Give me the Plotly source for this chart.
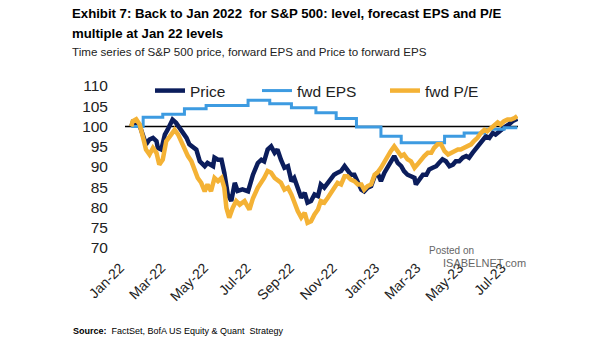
import plotly.graph_objects as go

# ---------------- data ----------------
price_dates = [
    "2022-01-17", "2022-01-19", "2022-01-24", "2022-01-29", "2022-01-31", "2022-02-07", "2022-02-12",
    "2022-02-17", "2022-02-22", "2022-02-24", "2022-03-01", "2022-03-06", "2022-03-10", "2022-03-17",
    "2022-03-22", "2022-03-27", "2022-04-01", "2022-04-06", "2022-04-10", "2022-04-15", "2022-04-20",
    "2022-04-25", "2022-05-02", "2022-05-06", "2022-05-14", "2022-05-16", "2022-05-21", "2022-05-26",
    "2022-05-30", "2022-06-04", "2022-06-09", "2022-06-14", "2022-06-18", "2022-06-25", "2022-07-03",
    "2022-07-10", "2022-07-17", "2022-07-22", "2022-07-26", "2022-07-31", "2022-08-05", "2022-08-10",
    "2022-08-14", "2022-08-19", "2022-08-24", "2022-08-29", "2022-09-03", "2022-09-07", "2022-09-12",
    "2022-09-17", "2022-09-22", "2022-09-26", "2022-10-01", "2022-10-06", "2022-10-11", "2022-10-15",
    "2022-10-20", "2022-10-25", "2022-10-30", "2022-11-03", "2022-11-08", "2022-11-13", "2022-11-18",
    "2022-11-22", "2022-11-27", "2022-12-02", "2022-12-07", "2022-12-12", "2022-12-16", "2022-12-21",
    "2022-12-26", "2022-12-31", "2023-01-04", "2023-01-09", "2023-01-14", "2023-01-19", "2023-01-23",
    "2023-01-28", "2023-02-02", "2023-02-07", "2023-02-11", "2023-02-16", "2023-02-21", "2023-02-26",
    "2023-02-28", "2023-03-05", "2023-03-10", "2023-03-15", "2023-03-19", "2023-03-24", "2023-03-29",
    "2023-04-02", "2023-04-07", "2023-04-12", "2023-04-17", "2023-04-22", "2023-04-26", "2023-05-01",
    "2023-05-06", "2023-05-11", "2023-05-15", "2023-05-20", "2023-05-25", "2023-05-30", "2023-06-03",
    "2023-06-08", "2023-06-13", "2023-06-18", "2023-06-22", "2023-06-27", "2023-07-02", "2023-07-07",
    "2023-07-11", "2023-07-16", "2023-07-21", "2023-07-23",
]
price_values = [
    100.0, 101.0, 100.5, 100.3, 99.2, 95.6, 96.8,
    97.2, 96.4, 94.7, 94.3, 98.0, 99.2, 101.7,
    100.9, 99.6, 98.4, 97.2, 95.6, 95.1, 94.3,
    91.4, 90.2, 91.0, 90.2, 92.3, 91.8, 91.8,
    88.6, 83.2, 81.6, 86.1, 84.1, 84.5, 84.0,
    88.1, 91.0, 91.8, 91.4, 94.3, 95.1, 93.5,
    94.3, 91.8, 89.8, 90.2, 86.5, 87.3, 84.9,
    82.4, 83.6, 81.2, 81.6, 83.2, 82.8, 85.7,
    84.9, 86.1, 87.3, 88.1, 88.6, 89.0, 90.2,
    89.4, 88.1, 88.1, 86.1, 84.4, 84.0, 84.9,
    85.3, 87.7, 88.6, 86.5, 88.6, 90.2, 91.4,
    92.7, 91.0, 90.2, 89.0, 88.1, 87.7, 87.3,
    85.7, 86.9, 88.1, 88.1, 89.4, 89.8, 90.2,
    91.0, 91.9, 91.4, 90.2, 90.6, 91.4, 91.4,
    92.3, 92.7, 92.3, 93.5, 94.7, 95.6, 96.4,
    97.6, 97.2, 98.4, 98.0, 98.8, 99.6, 100.1,
    100.5, 101.3, 101.7, 101.9,
]

pe_dates = [
    "2022-01-17", "2022-01-19", "2022-01-24", "2022-01-29", "2022-02-03", "2022-02-07", "2022-02-12",
    "2022-02-17", "2022-02-22", "2022-02-26", "2022-03-03", "2022-03-08", "2022-03-15", "2022-03-20",
    "2022-03-25", "2022-03-29", "2022-04-03", "2022-04-08", "2022-04-13", "2022-04-17", "2022-04-22",
    "2022-04-27", "2022-05-02", "2022-05-06", "2022-05-11", "2022-05-16", "2022-05-21", "2022-05-26",
    "2022-05-30", "2022-06-02", "2022-06-06", "2022-06-11", "2022-06-16", "2022-06-21", "2022-06-28",
    "2022-07-05", "2022-07-10", "2022-07-17", "2022-07-22", "2022-07-26", "2022-07-31", "2022-08-05",
    "2022-08-10", "2022-08-14", "2022-08-19", "2022-08-24", "2022-08-29", "2022-09-03", "2022-09-07",
    "2022-09-12", "2022-09-17", "2022-09-22", "2022-09-26", "2022-10-01", "2022-10-06", "2022-10-11",
    "2022-10-15", "2022-10-20", "2022-10-25", "2022-10-30", "2022-11-03", "2022-11-08", "2022-11-13",
    "2022-11-18", "2022-11-22", "2022-11-27", "2022-12-02", "2022-12-07", "2022-12-12", "2022-12-16",
    "2022-12-21", "2022-12-26", "2022-12-31", "2023-01-04", "2023-01-09", "2023-01-14", "2023-01-19",
    "2023-01-23", "2023-01-28", "2023-02-02", "2023-02-07", "2023-02-11", "2023-02-16", "2023-02-21",
    "2023-02-26", "2023-03-02", "2023-03-07", "2023-03-12", "2023-03-17", "2023-03-22", "2023-03-26",
    "2023-03-31", "2023-04-05", "2023-04-10", "2023-04-15", "2023-04-19", "2023-04-24", "2023-04-29",
    "2023-05-03", "2023-05-08", "2023-05-13", "2023-05-18", "2023-05-22", "2023-05-27", "2023-06-01",
    "2023-06-06", "2023-06-10", "2023-06-15", "2023-06-20", "2023-06-25", "2023-06-29", "2023-07-04",
    "2023-07-09", "2023-07-14", "2023-07-19", "2023-07-23",
]
pe_values = [
    100.0, 101.3, 101.8, 100.5, 97.2, 94.3, 93.1,
    94.7, 93.5, 90.6, 91.8, 96.4, 98.0, 99.2,
    98.0, 96.4, 94.3, 92.7, 91.4, 89.4, 87.3,
    86.1, 84.0, 85.7, 84.0, 87.3, 86.5, 87.3,
    84.9, 79.9, 77.5, 79.9, 81.6, 80.7, 81.6,
    79.5, 82.3, 84.9, 86.1, 87.3, 89.0, 88.6,
    87.3, 86.9, 86.1, 84.4, 84.9, 83.2, 81.2,
    79.1, 77.5, 78.7, 76.2, 76.6, 78.3, 79.5,
    81.6, 81.2, 82.4, 83.6, 84.9, 86.1, 85.7,
    87.7, 87.7, 86.9, 86.5, 85.7, 85.7, 84.4,
    85.3, 85.7, 88.1, 88.6, 89.8, 91.4, 93.1,
    93.9, 95.1, 93.9, 92.7, 93.1, 91.9, 91.4,
    89.8, 90.6, 91.9, 92.7, 93.5, 93.5, 94.7,
    95.6, 95.6, 93.9, 93.1, 93.5, 93.9, 94.3,
    94.3, 94.7, 95.1, 95.6, 96.4, 97.2, 98.4,
    99.2, 98.8, 99.6, 100.1, 101.0, 100.5, 101.3,
    101.7, 101.7, 102.1, 102.6,
]

eps_dates = [
    "2022-01-17", "2022-02-03", "2022-03-03", "2022-04-03", "2022-05-04", "2022-07-03",
    "2022-08-03", "2022-09-03", "2022-10-08", "2022-11-06", "2022-12-05", "2023-01-09",
    "2023-02-07", "2023-04-10", "2023-05-08", "2023-06-06", "2023-07-04", "2023-07-23",
]
eps_values = [
    100.0, 102.3, 103.0, 104.4, 105.2, 106.5,
    105.6, 104.6, 103.4, 102.0, 99.9, 97.6,
    96.0, 97.6, 98.4, 99.3, 99.7, 99.7,
]

tick_dates = ["2022-01-01", "2022-03-01", "2022-05-01", "2022-07-01", "2022-09-01",
              "2022-11-01", "2023-01-01", "2023-03-01", "2023-05-01", "2023-07-01"]
tick_labels = ["Jan-22", "Mar-22", "May-22", "Jul-22", "Sep-22",
               "Nov-22", "Jan-23", "Mar-23", "May-23", "Jul-23"]
y_ticks = [70, 75, 80, 85, 90, 95, 100, 105, 110]

ref_level = 100
ref_start, ref_end = "2022-01-08", "2023-07-24"

# ---------------- figure ----------------
FONT = "Liberation Sans Narrow, Liberation Sans, Arial, sans-serif"
NAVY = "#0b1d5c"
LBLUE = "#3d9be1"
GOLD = "#f4b235"

L, R, T, B = 118, 87, 86, 93
PW = 605 - L - R
PH = 341 - T - B


def px_x(px):
    return (px - L) / PW


def px_y(py):
    return (341 - B - py) / PH


fig = go.Figure()
fig.add_trace(go.Scatter(x=price_dates, y=price_values, name="Price", mode="lines",
                         line=dict(color=NAVY, width=4.5), legend="legend"))
fig.add_trace(go.Scatter(x=eps_dates, y=eps_values, name="fwd EPS", mode="lines",
                         line=dict(color=LBLUE, width=3, shape="hv"), legend="legend2"))
fig.add_trace(go.Scatter(x=pe_dates, y=pe_values, name="fwd P/E", mode="lines",
                         line=dict(color=GOLD, width=4.5), legend="legend3"))

fig.add_shape(type="line", xref="x", yref="y", x0=ref_start, x1=ref_end,
              y0=ref_level, y1=ref_level,
              line=dict(color="black", width=1.5), layer="below")

ann = [
    dict(text="<b>Exhibit 7: Back to Jan 2022  for S&P 500: level, forecast EPS and P/E</b>",
         x=px_x(70), y=px_y(13), font=dict(size=13.2, color="black")),
    dict(text="<b>multiple at Jan 22 levels</b>", x=px_x(70), y=px_y(33),
         font=dict(size=13.2, color="black")),
    dict(text="Time series of S&P 500 price, forward EPS and Price to forward EPS",
         x=px_x(70), y=px_y(52), font=dict(size=11.6, color="#222222")),
    dict(text="<b>Source:</b>  FactSet, BofA US Equity & Quant  Strategy",
         x=px_x(71), y=px_y(331), font=dict(size=9, color="black")),
    dict(text="Posted on", x=px_x(427), y=px_y(250),
         font=dict(size=10, color="#666666", family="Liberation Sans, Arial")),
    dict(text="ISABELNET.com", x=px_x(441), y=px_y(263),
         font=dict(size=11, color="#666666", family="Liberation Sans, Arial")),
]
for a in ann:
    a.update(xref="paper", yref="paper", xanchor="left", yanchor="middle",
             showarrow=False)
    if "family" not in a["font"]:
        a["font"]["family"] = FONT

leg_common = dict(orientation="h", y=px_y(91), xanchor="left", yanchor="middle",
                  bgcolor="rgba(0,0,0,0)", font=dict(size=15.5, color="#222222"))

fig.update_layout(
    width=605, height=341,
    margin=dict(l=L, r=R, t=T, b=B),
    paper_bgcolor="white", plot_bgcolor="white",
    font=dict(family=FONT, size=16, color="#222222"),
    showlegend=True,
    legend=dict(x=px_x(150), **leg_common),
    legend2=dict(x=px_x(257), **leg_common),
    legend3=dict(x=px_x(385), **leg_common),
    annotations=ann,
    xaxis=dict(type="date", range=["2021-12-29", "2023-07-24"],
               tickmode="array", tickvals=tick_dates, ticktext=tick_labels,
               tickangle=-45, showgrid=False, zeroline=False, showline=False,
               ticks="", tickfont=dict(size=14), ticklabelstandoff=8),
    yaxis=dict(range=[70, 110], tickmode="array", tickvals=y_ticks,
               showgrid=False, zeroline=False, showline=False, ticks="",
               tickfont=dict(size=15.5), ticklabelstandoff=9),
)

fig.write_html("out.html")
